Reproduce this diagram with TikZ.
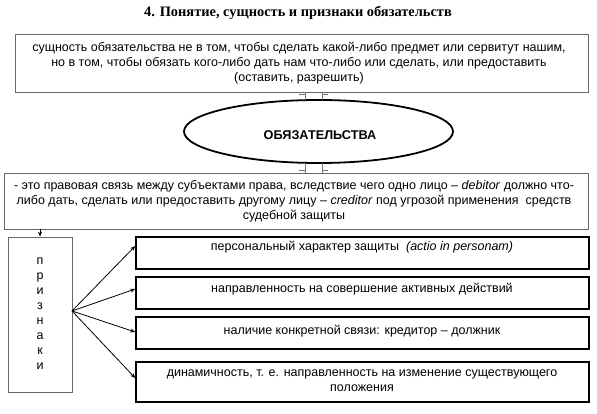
\documentclass[tikz,border=0pt]{standalone}
\usepackage{fontspec}
\setmainfont{Liberation Sans}
\newfontfamily\titlefont{Liberation Serif}
\usetikzlibrary{shapes.geometric,arrows.meta}
\begin{document}
\begin{tikzpicture}[x=1pt,y=-1pt,
  graybox/.style={draw=black!60,line width=0.8pt,inner sep=0pt},
  signbox/.style={draw=black,line width=1.6pt,inner sep=0pt,minimum width=453pt},
  txt/.style={font=\fontsize{12.5}{15}\selectfont,align=center,inner sep=0pt},
  arr/.style={-{Stealth[length=5pt,width=4pt]},line width=0.8pt},
  dbl/.style={draw=black!55,line width=0.7pt}]
\useasboundingbox (0,0) rectangle (597,414);
\node[font=\titlefont\bfseries\fontsize{14.4}{16}\selectfont,inner sep=0pt] (title) at (298,13) {4. Понятие, сущность и признаки обязательств};
% top box
\node[graybox,minimum width=573pt,minimum height=58pt] (top) at (301.5,63) {};
\node[txt] (toptxt) at (299,63) {сущность обязательства не в том, чтобы сделать какой-либо предмет или сервитут нашим,\\но в том, чтобы обязать кого-либо дать нам что-либо или сделать, или предоставить\\(оставить, разрешить)};
% ellipse
\node[ellipse,draw=black,line width=1.8pt,minimum width=269pt,minimum height=63pt,inner sep=0pt] (ell) at (318.5,131.5) {};
\node[font=\bfseries\fontsize{12.7}{14}\selectfont,inner sep=0pt] (elltxt) at (320,135) {ОБЯЗАТЕЛЬСТВА};
% box 2
\node[graybox,minimum width=584pt,minimum height=56pt] (def) at (296,201) {};
\node[txt] (deftxt) at (294,201) {- это правовая связь между субъектами права, вследствие чего одно лицо -- \textit{debitor} должно что-\\либо дать, сделать или предоставить другому лицу -- \textit{creditor} под угрозой применения\ \ средств\\судебной защиты};
% double connectors
\coordinate (a1) at (305,92.4); \coordinate (a2) at (322,92.4);
\coordinate (b1) at (305,100.5); \coordinate (b2) at (322,100.3);
\draw[dbl] (a1) -- (b1) (a2) -- (b2);
\draw[dbl] (299,94.5) -- (305,94.5) (322,94.5) -- (328,94.5);
\coordinate (c1) at (305,162.8); \coordinate (c2) at (322,162.8);
\coordinate (d1) at (305,173); \coordinate (d2) at (322,173);
\draw[dbl] (c1) -- (d1) (c2) -- (d2);
\draw[dbl] (299,170.5) -- (305,170.5) (322,170.5) -- (328,170.5);
% priznaki box
\node[graybox,minimum width=64pt,minimum height=155pt] (pr) at (40,314.5) {};
\node[txt] (prtxt) at (40,314) {п\\р\\и\\з\\н\\а\\к\\и};
\draw[arr] (def.south -| pr.north) -- (pr.north);
% sign boxes
\node[signbox,minimum height=32pt] (s1) at (362.5,253) {};
\node[signbox,minimum height=32pt] (s2) at (362.5,293) {};
\node[signbox,minimum height=32pt] (s3) at (362.5,333) {};
\node[signbox,minimum height=40pt] (s4) at (362.5,382) {};
\node[txt] (t1) at (362,247) {персональный характер защиты\ \ \textit{(actio in personam)}};
\node[txt] (t2) at (362,289) {направленность на совершение активных действий};
\node[txt] (t3) at (362,331) {наличие конкретной связи: кредитор -- должник};
\node[txt] (t4) at (362,381) {динамичность, т. е. направленность на изменение существующего\\положения};
\coordinate (o) at (72,311);
\draw[arr] (o) -- (s1.west |- 0,246);
\draw[arr] (o) -- (s2.west |- 0,289);
\draw[arr] (o) -- (s3.west |- 0,332);
\draw[arr] (o) -- (s4.west |- 0,378);
\end{tikzpicture}
\end{document}
